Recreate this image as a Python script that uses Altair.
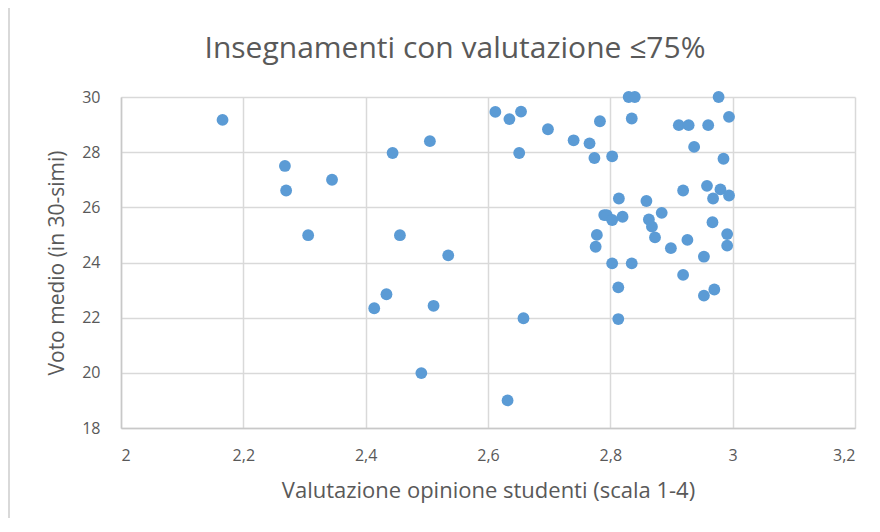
import altair as alt
import pandas as pd

chart_title = ["Insegnamenti con valutazione ≤75%"]

valutazione = [
    2.166, 2.268, 2.270, 2.345, 2.306,
    2.612, 2.635, 2.654, 2.698, 2.740, 2.766, 2.783, 2.774,
    2.444, 2.505, 2.651, 2.456, 2.535, 2.790, 2.778, 2.776,
    2.830, 2.840, 2.977, 2.835, 2.912, 2.928, 2.960, 2.994,
    2.937, 2.803, 2.985, 2.919, 2.958, 2.980, 2.968, 2.994,
    2.814, 2.859, 2.884, 2.794, 2.803, 2.820, 2.863, 2.868,
    2.873, 2.926, 2.967, 2.991, 2.991, 2.899, 2.953, 2.803,
    2.835, 2.919, 2.414, 2.434, 2.511, 2.658, 2.491, 2.632,
    2.813, 2.813, 2.953, 2.970,
]
voto = [
    29.17, 27.50, 26.61, 27.00, 24.99,
    29.46, 29.20, 29.47, 28.83, 28.43, 28.32, 29.12, 27.79,
    27.97, 28.40, 27.97, 24.99, 24.26, 25.72, 25.00, 24.57,
    30.00, 30.00, 30.00, 29.22, 28.98, 28.98, 28.98, 29.28,
    28.19, 27.85, 27.76, 26.61, 26.78, 26.65, 26.32, 26.43,
    26.32, 26.23, 25.80, 25.72, 25.54, 25.66, 25.56, 25.30,
    24.91, 24.82, 25.46, 25.03, 24.61, 24.52, 24.21, 23.97,
    23.97, 23.55, 22.34, 22.85, 22.43, 21.98, 19.99, 19.00,
    23.10, 21.95, 22.80, 23.02,
]

df = pd.DataFrame({"x": valutazione, "y": voto})
df_title = pd.DataFrame({"t": chart_title})

FONT = "Open Sans"
GREY = "#595959"
W, H = 734, 331

points = alt.Chart(df).mark_circle(size=140, color="#5b9bd5", opacity=1).encode(
    x=alt.X(
        "x:Q",
        scale=alt.Scale(domain=[2, 3.2], nice=False, zero=False),
        axis=alt.Axis(
            values=[2, 2.2, 2.4, 2.6, 2.8, 3, 3.2],
            labelExpr="replace(format(datum.value, '.1~f'), '.', ',')",
            title="Valutazione opinione studenti (scala 1-4)",
            titleFontSize=22,
            titlePadding=17,
            labelPadding=19,
        ),
    ),
    y=alt.Y(
        "y:Q",
        scale=alt.Scale(domain=[18, 30], nice=False, zero=False),
        axis=alt.Axis(
            values=[18, 20, 22, 24, 26, 28, 30],
            title="Voto medio (in 30-simi)",
            titleFontSize=21,
            titlePadding=14,
            labelPadding=21,
        ),
    ),
)

border_left = alt.Chart(df).mark_rule(color="#d9d9d9", strokeWidth=2).encode(
    x=alt.value(-112), y=alt.value(-90), y2=alt.value(H + 100)
)

title_text = alt.Chart(df_title).mark_text(
    font=FONT, fontSize=30, color=GREY, align="center", baseline="alphabetic"
).encode(text="t:N", x=alt.value(455 - 121), y=alt.value(58 - 97))

chart = (
    alt.layer(border_left, points, title_text)
    .properties(
        width=W,
        height=H,
        autosize=alt.AutoSizeParams(type="none"),
        padding={"left": 113, "top": 89, "right": 10, "bottom": 90},
    )
    .configure_view(stroke=None)
    .configure_axis(
        labelFont=FONT,
        titleFont=FONT,
        labelFontSize=16,
        labelColor=GREY,
        titleColor=GREY,
        titleFontWeight="normal",
        grid=True,
        gridColor="#d9d9d9",
        gridWidth=1.5,
        domainColor="#c8c8c8",
        domainWidth=1.5,
        ticks=False,
    )
)

chart.save("out.html", embed_options={"renderer": "svg", "actions": False})
